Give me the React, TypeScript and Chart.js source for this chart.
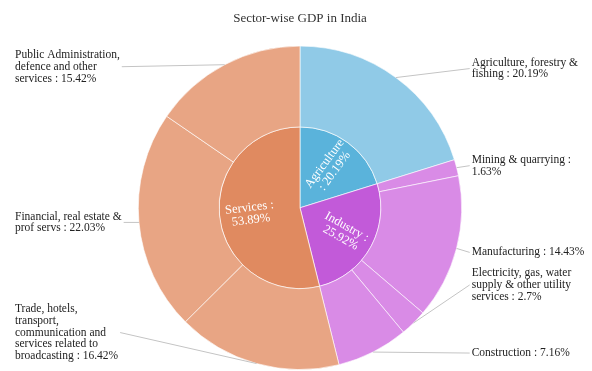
import React, { useEffect, useRef } from "react";
import { Chart, registerables } from "chart.js";

Chart.register(...registerables);

// ---------- data ----------
const chartTitle = "Sector-wise GDP in India";

const sectorNames = ["Agriculture", "Industry", "Services"];
const sectorValues = [20.19, 25.92, 53.89];
// how each inner label is broken into lines ({n} name, {v} value)
const sectorFormats = ["{n}\n: {v}%", "{n} :\n{v}%", "{n} :\n{v}%"];

const subNames = [
  "Agriculture, forestry &\nfishing",
  "Mining & quarrying",
  "Manufacturing",
  "Electricity, gas, water\nsupply & other utility\nservices",
  "Construction",
  "Trade, hotels,\ntransport,\ncommunication and\nservices related to\nbroadcasting",
  "Financial, real estate &\nprof servs",
  "Public Administration,\ndefence and other\nservices",
];
const subValues = [20.19, 1.63, 14.43, 2.7, 7.16, 16.42, 22.03, 15.42];
const subFormats = ["{n} : {v}%", "{n} :\n{v}%", "{n} : {v}%", "{n} : {v}%", "{n} : {v}%", "{n} : {v}%", "{n} : {v}%", "{n} : {v}%"];

// ---------- styles ----------
const sectorColors = ["#5AB3DB", "#C25AD9", "#E08A60"];
const subColors = ["#90CAE7", "#D98BE6", "#D98BE6", "#D98BE6", "#D98BE6", "#E8A584", "#E8A584", "#E8A584"];
const labelShift = [-9, -2, 4, -38, 1, -31, 0, 2];
const FONT = "'Liberation Serif', 'DejaVu Serif', serif";

function fmt(f: string, n: string, v: number) {
  return f.replace("{n}", n).replace("{v}", String(v)).split("\n");
}

const labelPlugin = {
  id: "sunburstLabels",
  afterDatasetsDraw(chart: any) {
    const ctx = chart.ctx as CanvasRenderingContext2D;
    // inner labels
    const innerMeta = chart.getDatasetMeta(1);
    innerMeta.data.forEach((arc: any, i: number) => {
      const p = arc.getProps(["x", "y", "startAngle", "endAngle", "outerRadius"], true);
      const mid = (p.startAngle + p.endAngle) / 2;
      const r = p.outerRadius * 0.62;
      const cx = p.x + Math.cos(mid) * r;
      const cy = p.y + Math.sin(mid) * r;
      let rot = Math.atan2(Math.sin(mid), Math.cos(mid));
      if (rot > Math.PI / 2) rot -= Math.PI;
      if (rot < -Math.PI / 2) rot += Math.PI;
      const lines = fmt(sectorFormats[i], sectorNames[i], sectorValues[i]);
      ctx.save();
      ctx.translate(cx, cy);
      ctx.rotate(rot);
      ctx.fillStyle = "#ffffff";
      ctx.font = `12.5px ${FONT}`;
      ctx.textAlign = "center";
      ctx.textBaseline = "middle";
      const lh = 12.5;
      lines.forEach((ln, k) => {
        ctx.fillText(ln, 0, (k - (lines.length - 1) / 2) * lh);
      });
      ctx.restore();
    });

    // outer labels with leader lines
    const outerMeta = chart.getDatasetMeta(0);
    const leftX = chart.chartArea.left + 7;
    outerMeta.data.forEach((arc: any, i: number) => {
      const p = arc.getProps(["x", "y", "startAngle", "endAngle", "outerRadius"], true);
      const mid = (p.startAngle + p.endAngle) / 2;
      const ax = p.x + Math.cos(mid) * p.outerRadius;
      const ay = p.y + Math.sin(mid) * p.outerRadius;
      const right = Math.cos(mid) > 0;
      const lines = fmt(subFormats[i], subNames[i], subValues[i]);
      ctx.save();
      ctx.font = `11.5px ${FONT}`;
      const lh = 11.8;
      const widths = lines.map((l) => ctx.measureText(l).width);
      const maxW = Math.max(...widths);
      const by = ay + labelShift[i];
      const tx = right ? p.x + p.outerRadius + 10 : leftX;
      const lx = right ? tx - 2 : tx + maxW + 2;
      ctx.strokeStyle = "#c4c4c4";
      ctx.lineWidth = 1;
      ctx.beginPath();
      ctx.moveTo(ax, ay);
      ctx.lineTo(lx, by);
      ctx.stroke();
      ctx.fillStyle = "#222222";
      ctx.textAlign = "left";
      ctx.textBaseline = "middle";
      lines.forEach((ln, k) => {
        ctx.fillText(ln, tx, by + (k - (lines.length - 1) / 2) * lh);
      });
      ctx.restore();
    });
  },
};

export default function App() {
  const ref = useRef<HTMLCanvasElement>(null);
  useEffect(() => {
    document.body.style.margin = "0";
    if (!ref.current) return;
    const chart = new Chart(ref.current, {
      type: "pie",
      data: {
        labels: subNames,
        datasets: [
          {
            data: subValues,
            backgroundColor: subColors,
            borderColor: "rgba(255,255,255,0.6)",
            borderWidth: 1,
          },
          {
            data: sectorValues,
            backgroundColor: sectorColors,
            borderColor: "rgba(255,255,255,0.65)",
            borderWidth: 1,
          },
        ],
      },
      options: {
        responsive: false,
        animation: false,
        layout: { padding: { left: 8, right: 0, top: 0, bottom: 1 } },
        plugins: {
          legend: { display: false },
          tooltip: { enabled: false },
          title: {
            display: true,
            text: chartTitle,
            color: "#333333",
            font: { family: FONT, size: 13, weight: "normal" },
            padding: { top: 11, bottom: 19 },
          },
        },
      },
      plugins: [labelPlugin],
    } as any);
    return () => chart.destroy();
  }, []);
  return (
    <div style={{ position: "fixed", left: 0, top: 0, width: 592, height: 371, background: "#fff" }}>
      <canvas ref={ref} width={592} height={371} />
    </div>
  );
}
